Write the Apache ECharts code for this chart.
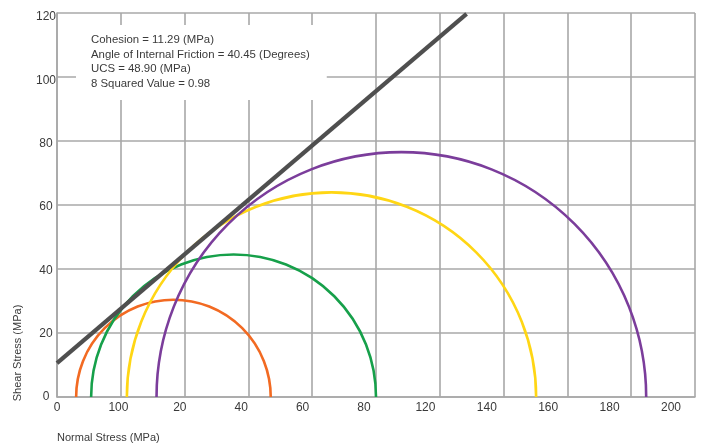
<!DOCTYPE html>
<html>
<head>
<meta charset="utf-8">
<script src="https://cdn.jsdelivr.net/npm/echarts@6/dist/echarts.min.js"></script>
<style>
html,body{margin:0;padding:0;background:#fff;}
#chart{width:702px;height:444px;}
</style>
</head>
<body>
<div id="chart"></div>
<script>
// Mohr circles: minor (sigma3) and major (sigma1) principal stresses, MPa
var circleNames = ['Test 1', 'Test 2', 'Test 3', 'Test 4'];
var sigma3 = [6.0, 10.7, 21.9, 31.2];
var sigma1 = [67.0, 100.0, 150.2, 184.7];
var circleColors = ['#F26A22', '#16A04A', '#FFD614', '#7B3D9B'];
// failure envelope end points [normal, shear]
var envelopeX = [0, 128.4];
var envelopeY = [10.6, 119.7];
// tick labels as printed on the original
var xTickLabels = ['0', '100', '20', '40', '60', '80', '120', '140', '160', '180', '200'];
var yTickLabels = ['0', '20', '40', '60', '80', '100', '120'];
var infoLines = [
  'Cohesion = 11.29 (MPa)',
  'Angle of Internal Friction = 40.45 (Degrees)',
  'UCS = 48.90 (MPa)',
  '8 Squared Value = 0.98'
];

var gridColor = '#A8A8A8';
var textColor = '#3a3a3a';
var font = 'Liberation Sans';

var series = [];
for (var i = 0; i < sigma3.length; i++) {
  (function (idx) {
    series.push({
      type: 'custom',
      name: circleNames[idx],
      xAxisIndex: 0, yAxisIndex: 0,
      data: [[sigma3[idx], sigma1[idx]]],
      encode: { x: [0, 1] },
      silent: true,
      renderItem: function (params, api) {
        var s3 = api.value(0), s1 = api.value(1);
        var c = api.coord([(s3 + s1) / 2, 0]);
        var r = api.size([(s1 - s3) / 2, 0])[0];
        return {
          type: 'arc',
          shape: { cx: c[0], cy: c[1], r: r, startAngle: Math.PI, endAngle: 2 * Math.PI, clockwise: true },
          style: { stroke: circleColors[idx], fill: null, lineWidth: 2.6 }
        };
      }
    });
  })(i);
}
series.push({
  type: 'line',
  name: 'Envelope',
  xAxisIndex: 0, yAxisIndex: 0,
  data: envelopeX.map(function (x, k) { return [x, envelopeY[k]]; }),
  symbol: 'none',
  lineStyle: { color: '#4F4F4F', width: 4.2 },
  silent: true,
  z: 5
});

var chart = echarts.init(document.getElementById('chart'), null, { renderer: 'canvas' });
chart.setOption({
  animation: false,
  backgroundColor: '#fff',
  textStyle: { fontFamily: font },
  grid: [
    { left: 57, right: 7, top: 13, bottom: 47, containLabel: false },
    { left: 57, right: 31, top: 17, bottom: 47, containLabel: false }
  ],
  xAxis: [
    {
      gridIndex: 0, type: 'value', min: 0, max: 200, interval: 20,
      axisLine: { show: true, lineStyle: { color: gridColor, width: 1.6 } },
      axisTick: { show: false },
      axisLabel: { show: false },
      splitLine: { show: true, lineStyle: { color: gridColor, width: 1.6 } }
    },
    {
      gridIndex: 1, type: 'value', min: 0, max: xTickLabels.length - 1, interval: 1,
      axisLine: { show: false }, axisTick: { show: false }, splitLine: { show: false },
      axisLabel: {
        show: true, margin: 5, color: textColor, fontSize: 12, fontFamily: font,
        formatter: function (v) { return xTickLabels[v]; }
      }
    }
  ],
  yAxis: [
    {
      gridIndex: 0, type: 'value', min: 0, max: 120, interval: 20,
      axisLine: { show: true, lineStyle: { color: gridColor, width: 1.6 } },
      axisTick: { show: false },
      axisLabel: { show: false },
      splitLine: { show: true, lineStyle: { color: gridColor, width: 1.6 } }
    },
    {
      gridIndex: 1, type: 'value', min: 0, max: (yTickLabels.length - 1) * 20, interval: 20,
      axisLine: { show: false }, axisTick: { show: false }, splitLine: { show: false },
      axisLabel: {
        show: true, margin: 11, align: 'center', color: textColor, fontSize: 12, fontFamily: font,
        formatter: function (v) { return yTickLabels[v / 20]; }
      }
    }
  ],
  title: {
    text: infoLines.join('\n'),
    left: 76, top: 25,
    backgroundColor: '#fff',
    padding: [8, 17, 9, 15],
    textStyle: { fontSize: 11.4, fontWeight: 'normal', color: textColor, fontFamily: font, lineHeight: 14.5 }
  },
  graphic: [
    {
      type: 'text', x: 18, y: 353, rotation: Math.PI / 2,
      style: { text: 'Shear Stress (MPa)', fill: textColor, font: '11px "Liberation Sans"', textAlign: 'center', textVerticalAlign: 'middle' }
    },
    {
      type: 'text', x: 57, y: 438,
      style: { text: 'Normal Stress (MPa)', fill: textColor, font: '11px "Liberation Sans"', textAlign: 'left', textVerticalAlign: 'middle' }
    }
  ],
  series: series
});
</script>
</body>
</html>
